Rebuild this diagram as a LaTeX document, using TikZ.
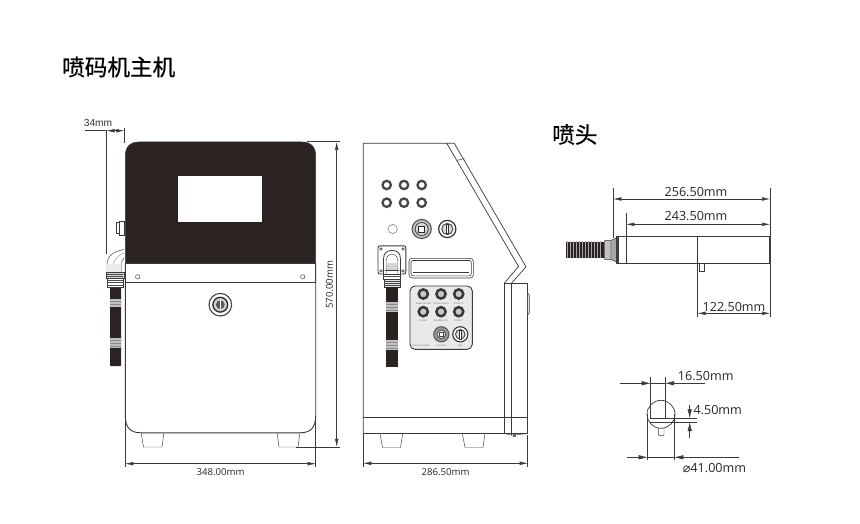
\documentclass[tikz,border=0pt]{standalone}
\usepackage{fontspec}
\setmainfont{Open Sans}
\newfontfamily\cjkf[FakeBold=0.7]{Noto Sans CJK SC}
\newfontfamily\arialf{Liberation Sans}
\newfontfamily\symf{DejaVu Sans}
\usetikzlibrary{arrows.meta}
\definecolor{ink}{HTML}{3A3A3A}
\definecolor{panel}{HTML}{2B2321}
\definecolor{ltgrey}{HTML}{E9E9E9}
\tikzset{
  body/.style={draw=ink,line width=.7pt,fill=white},
  fine/.style={draw=ink,line width=.45pt},
  dimline/.style={draw=ink,line width=.5pt},
  dimarrow/.style={draw=ink,line width=.5pt,{Latex[length=8pt,width=3.6pt]}-{Latex[length=8pt,width=3.6pt]}},
  onearrow/.style={draw=ink,line width=.5pt,-{Latex[length=9pt,width=4.4pt]}},
  title/.style={inner sep=0pt,anchor=west,text=black,font=\cjkf\fontsize{22.6}{25}\selectfont},
  dimS/.style={inner sep=0pt,text=black!85,font=\fontsize{9.6}{11}\selectfont},
  dimL/.style={inner sep=0pt,text=black!85,font=\fontsize{12.6}{14}\selectfont},
  tiny/.style={inner sep=0pt,text=black!60,font=\fontsize{2.4}{3}\selectfont},
  ring/.style={draw=black!72,line width=2.3pt,fill=white},
}
\newcommand{\ribband}[4]{%
  \fill[black!45] (#1,#3) rectangle (#2,#4);
  \pgfmathsetmacro{\ribnext}{#3+1.5}
  \foreach \yy in {#3,\ribnext,...,#4} {\draw[white!75!black,line width=.5pt] (#1,\yy) -- (#2,\yy);}}
\begin{document}
\begin{tikzpicture}[x=1pt,y=-1pt]
\useasboundingbox[fill=white] (0,0) rectangle (860,524);

% ---------- titles
\node[title] (t1) at (62,67) {喷码机主机};
\node[title] (t2) at (552,134.5) {喷头};

% ---------- FRONT VIEW
% feet
\draw[fine,fill=white] (141,432) -- (143.5,447) -- (162,447) -- (164,432);
\draw[fine,fill=white] (277,432) -- (279,447) -- (298,447) -- (300,432);
% side button
\draw[fine,fill=white] (119,221) rectangle (124,235);
\draw[fine,fill=white] (116,222.5) rectangle (119,233.5);
% body
\draw[body,line width=.9pt] (125.3,263) -- (125.3,416) .. controls (125.3,427) and (130,432.8) .. (141,432.8)
  -- (300,432.8) .. controls (311,432.8) and (315.7,427) .. (315.7,416) -- (315.7,263);
% upper dark panel
\fill[panel,draw=ink,line width=.5pt] (125.3,263) -- (125.3,156) .. controls (125.3,147) and (130,142) .. (139,142)
  -- (302,142) .. controls (311,142) and (315.7,147) .. (315.7,156) -- (315.7,263) -- cycle;
\fill[white] (178,176) rectangle (262,222.3);
% strip
\draw[fine,fill=white] (125.3,263.5) rectangle (315.7,282);
\draw[draw=ink,line width=1.1pt] (125.3,282.3) -- (315.7,282.3);
\draw[fine,fill=white] (137.7,276.8) circle (2.2);
\draw[fine,fill=white] (302.7,276.8) circle (2.2);
% lock
\draw[draw=black!75,line width=1.1pt,fill=white] (220.3,304.7) circle (11.3);
\draw[draw=black!80,line width=1.4pt,fill=black!18] (220.3,304.7) circle (7.4);
\fill[black!65] (220.3,304.7) circle (4.4);
\draw[white,line width=.8pt] (220.3,300) -- (220.3,309.4);
% front cable
\fill[panel,rounded corners=.6pt] (110,286) rectangle (121,366);
\ribband{110}{121}{299}{307}
\ribband{110}{121}{338}{347}
% front elbow
\draw[fine,fill=white] (124,249.5) .. controls (112,252) and (107,256) .. (107,266) -- (107,272) -- (121.5,272) -- (121.5,262) -- (124,258);
\draw[fine,black!40] (112,272) .. controls (112,262) and (116,256) .. (124,253);
\fill[black!8] (107.3,264) rectangle (121.2,271.7);
\draw[fine,fill=black!18] (106.5,272) rectangle (124,278);
\draw[fine,fill=white] (107,278) rectangle (123,287);
\foreach \yy in {274,276,280,282.5,285} {\draw[black!70,line width=.4pt] (107,\yy) -- (123,\yy);}

% 34mm dimension
\coordinate (a1) at (106.5,130.7);
\coordinate (a2) at (124.3,130.7);
\coordinate (a0) at (85,130.7);
\draw[dimline] (a0) -- (a1);
\draw[dimarrow] (a1) -- (a2);
\draw[dimline] (106.5,130) -- (106.5,254);
\draw[dimline] (124.3,128) -- (124.3,143);
\node[inner sep=0pt,text=black!80,font=\arialf\fontsize{10.2}{12}\selectfont] (d34) at (98,123) {34mm};

% 570 dimension
\coordinate (h1) at (336.7,142);
\coordinate (h2) at (336.7,446.8);
\draw[dimline] (307,141.5) -- (340,141.5);
\draw[dimline] (296,446.8) -- (340,446.8);
\draw[dimarrow] (h1) -- (h2);
\node[dimS,rotate=90] (d570) at (329.5,285) {570.00mm};

% 348 dimension
\coordinate (w1) at (125.3,463.7);
\coordinate (w2) at (315.7,463.7);
\draw[dimline] (125.3,420) -- (125.3,467);
\draw[dimline] (315.7,420) -- (315.7,467);
\draw[dimarrow] (w1) -- (w2);
\node[dimS] (d348) at (220.5,472.5) {348.00mm};

% ---------- SIDE VIEW
% feet
\draw[fine,fill=white] (380,433.5) -- (382.5,447.5) -- (400.5,447.5) -- (402.7,433.5);
\draw[fine,fill=white] (462.3,433.5) -- (465,447.5) -- (483,447.5) -- (485,433.5);
% outline
\draw[body] (504.5,283) -- (518.5,266.5) -- (446.8,143.3) -- (363.3,143.3) -- (363.3,433.4) -- (504.5,433.4);
\draw[draw=ink,line width=.7pt] (446.8,143.3) -- (454.3,143.3) -- (526,266.8) -- (511.7,283);
\draw[fine] (456.7,160.5) -- (464.5,158.5);
\draw[draw=ink,line width=.8pt] (363.3,417.7) -- (504.5,417.7);
% rear panel
\draw[body] (504.5,283) rectangle (527.7,433.5);
\draw[draw=ink,line width=.9pt] (504.5,283.3) -- (527.7,283.3);
\draw[fine] (511.7,283) -- (511.7,435);
\draw[fine] (504.5,417.7) -- (527.7,417.7);
\draw[fine] (504.5,433.5) -- (511.7,435.3) -- (527.7,433.5);
\fill[black!60] (513,433.5) rectangle (516,436.5);
\draw[fine,fill=black!12] (527.7,293) -- (529.3,295) -- (529.3,313) -- (527.7,315) -- cycle;
% top buttons
\foreach \xx in {386.7,404,421.7} {\foreach \yy in {185,202.7} {\draw[ring] (\xx,\yy) circle (4.2);}}
\draw[fine,black!55,line width=.5pt] (392.7,229) circle (4.6);
% switch
\draw[draw=black!70,line width=1pt,fill=black!25] (421.7,229) circle (9.6);
\draw[draw=black!75,line width=.8pt,fill=black!15] (421.7,229) circle (6.5);
\draw[draw=black!85,line width=.6pt,fill=white] (418.7,226) rectangle (424.7,232);
% key
\draw[draw=black!80,line width=1.2pt,fill=white] (447.3,229) circle (8.6);
\draw[draw=black!70,line width=1pt,fill=black!15] (447.3,229) circle (5.6);
\draw[draw=black!80,line width=.7pt,fill=white] (446,224.5) rectangle (448.6,233.5);
% side connector base
\draw[draw=ink,line width=.9pt,fill=white,rounded corners=2pt] (378,245.8) rectangle (405.8,274);
\foreach \xx in {381,403} {\foreach \yy in {249,271} {\draw[fine,fill=black!35] (\xx,\yy) circle (1.4);}}
\draw[draw=ink,line width=.8pt,fill=white] (383.5,274) -- (383.5,259) .. controls (383.5,253) and (387,250.5) .. (392,250.5)
  .. controls (397,250.5) and (400.5,253) .. (400.5,259) -- (400.5,274);
\draw[fine,fill=white] (386.5,274) -- (386.5,260) .. controls (386.5,256) and (389,254) .. (392,254)
  .. controls (395,254) and (397.5,256) .. (397.5,260) -- (397.5,274);
\fill[black!16] (386.7,263) rectangle (397.3,270);
\draw[fine] (385,270) -- (399,270);
% nut and side cable
\draw[fine,fill=white] (383.5,274) rectangle (400.5,279);
\draw[fine,fill=black!12] (384,279) rectangle (400,287);
\foreach \yy in {276,281,283,285} {\draw[black!70,line width=.4pt] (384,\yy) -- (400,\yy);}
\fill[panel] (386.3,287) rectangle (397.7,366.7);
\ribband{386.3}{397.7}{302}{312}
\ribband{386.3}{397.7}{340}{350}
% slot
\draw[draw=ink,line width=.6pt,fill=white,rounded corners=3pt] (409,258.3) rectangle (473.3,278);
\draw[draw=ink,line width=.6pt,rounded corners=2pt] (411,260.5) rectangle (471.3,275.8);
\draw[fine] (413,272.5) -- (469,272.5);
% control panel
\draw[draw=ink,line width=.9pt,fill=ltgrey,rounded corners=5pt] (410,286) rectangle (472.3,349.3);
\foreach \xx in {423.3,441,458.7} {\foreach \yy in {294,311.7} {\draw[draw=black!78,line width=2.5pt,fill=black!22] (\xx,\yy) circle (4.6);}}
\node[tiny] (p1) at (423.3,303.6) {Power Nozzle};
\node[tiny] (p2) at (441,303.6) {Printer Object};
\node[tiny] (p3) at (458.7,303.6) {Printer 2};
\node[tiny] (p4) at (423.3,321) {Printer};
\node[tiny] (p5) at (441,321) {Run/Monitor};
\node[tiny] (p6) at (458.7,321) {Printer 1};
\draw[draw=black!65,line width=1.1pt,fill=black!40] (441.3,334.3) circle (7.6);
\draw[draw=black!70,line width=.8pt,fill=black!12] (441.3,334.3) circle (4.4);
\draw[draw=black!75,line width=.6pt,fill=white] (439,332) rectangle (443.6,336.6);
\draw[draw=black!80,line width=1.1pt,fill=white] (460.3,334.3) circle (7.6);
\draw[draw=black!70,line width=1pt,fill=black!15] (460.3,334.3) circle (4.8);
\draw[draw=black!80,line width=.6pt,fill=white] (459,329.8) rectangle (461.6,338.8);
\node[tiny] (p7) at (421,345.8) {Color standard};
\node[tiny] (p8) at (441.3,345.8) {Channel};
\node[tiny] (p9) at (460.3,345.8) {LED};

% 286.5 dimension
\coordinate (s1) at (363.3,463.3);
\coordinate (s2) at (527.7,463.3);
\draw[dimline] (363.3,433) -- (363.3,467);
\draw[dimline] (527.7,435) -- (527.7,467);
\draw[dimarrow] (s1) -- (s2);
\node[dimS] (d286) at (445.5,472.5) {286.50mm};

% ---------- NOZZLE
\fill[panel] (565.7,241.7) rectangle (604.3,257.7);
\foreach \xx in {567.5,570.5,...,603} {\draw[white!65!black,line width=.45pt] (\xx,241.2) -- (\xx,258.2);}
\draw[fine,fill=black!25,rounded corners=.8pt] (604.3,240.3) rectangle (611,259.7);
\draw[fine,fill=black!35] (611,240.3) -- (616.8,237.8) -- (616.8,262) -- (611,259.7) -- cycle;
\draw[draw=ink,line width=.7pt,fill=white] (616.8,236.7) rectangle (770,263.3);
\fill[black!75] (616.8,236.4) rectangle (619,263.6);
\fill[black!75] (769,236.4) rectangle (770.5,263.6);
\draw[fine,fill=white] (699.5,263.5) rectangle (704,271);
% dims 256.5
\draw[dimline] (613.3,188) -- (613.3,238);
\draw[dimline] (770,188) -- (770,237);
\coordinate (n1) at (613.3,199);
\coordinate (n2) at (770,199);
\draw[dimarrow] (n1) -- (n2);
\node[dimL] (d256) at (696,192) {256.50mm};
% 243.5
\draw[dimline] (626.3,213) -- (626.3,263);
\coordinate (m1) at (626.3,224.3);
\coordinate (m2) at (770,224.3);
\draw[dimarrow] (m1) -- (m2);
\node[dimL] (d243) at (696,215.7) {243.50mm};
% 122.5
\draw[dimline] (697.7,237) -- (697.7,316.7);
\draw[dimline] (770,263) -- (770,316.7);
\coordinate (k1) at (697.7,313.3);
\coordinate (k2) at (770,313.3);
\draw[dimarrow] (k1) -- (k2);
\node[dimL] (d122) at (734,306.7) {122.50mm};

% ---------- CROSS SECTION
\draw[fine,fill=white] (658.3,428) -- (658.3,434.5) -- (659.3,435.7) -- (663,435.7) -- (664,434.5) -- (664,428);
\draw[draw=ink,line width=.7pt,fill=white] (661,414.3) circle (14);
% 16.5
\draw[dimline] (650.7,377) -- (650.7,418.3);
\draw[dimline] (665,377) -- (665,418.3);
\coordinate (c1) at (620,383.3);
\coordinate (c2) at (650.7,383.3);
\coordinate (c3) at (705,383.3);
\coordinate (c4) at (665,383.3);
\draw[onearrow] (c1) -- (c2);
\draw[onearrow] (c3) -- (c4);
\draw[dimline] (c2) -- (c4);
\node[dimL,anchor=west] (d165) at (677.7,376) {16.50mm};
% 4.5
\draw[dimline] (650,418.3) -- (696.7,418.3);
\draw[dimline] (650,422) -- (696.7,422);
\coordinate (e1) at (689.7,405);
\coordinate (e2) at (689.7,418.3);
\coordinate (e3) at (689.7,437.7);
\coordinate (e4) at (689.7,422);
\draw[onearrow] (e1) -- (e2);
\draw[onearrow] (e3) -- (e4);
\node[dimL,anchor=west] (d45) at (693.3,410) {4.50mm};
% 41
\draw[dimline] (647.7,414) -- (647.7,460);
\draw[dimline] (674.3,414) -- (674.3,460);
\coordinate (f1) at (627.3,457.3);
\coordinate (f2) at (647.7,457.3);
\coordinate (f3) at (739.3,457.3);
\coordinate (f4) at (674.3,457.3);
\draw[onearrow] (f1) -- (f2);
\draw[onearrow] (f3) -- (f4);
\draw[dimline] (f2) -- (f4);
\node[dimL,anchor=west] (d41) at (682.7,468) {{\symf ⌀}41.00mm};
\end{tikzpicture}
\end{document}
